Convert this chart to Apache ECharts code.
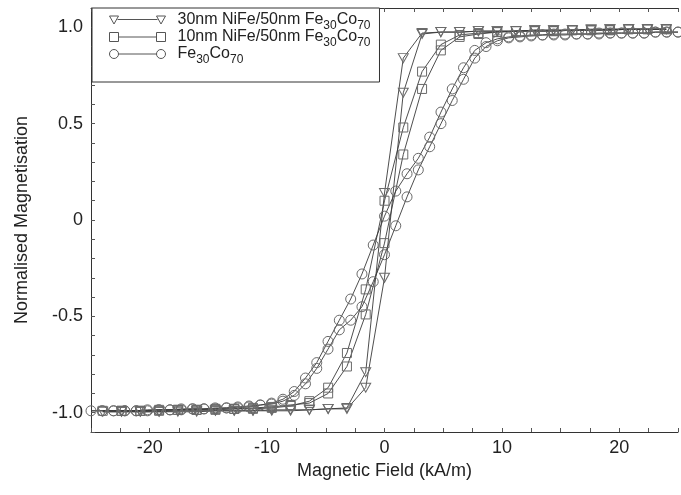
<!DOCTYPE html>
<html><head><meta charset="utf-8">
<script src="https://cdn.jsdelivr.net/npm/echarts@6/dist/echarts.min.js"></script>
<style>html,body{margin:0;padding:0;background:#fff}#c{width:681px;height:495px}</style>
</head><body><div id="c"></div>
<script>
// Field grid (kA/m) for the NiFe/FeCo bilayers, swept from +max to -max
const fieldGridBilayer = [24, 22.4, 20.8, 19.2, 17.6, 16, 14.4, 12.8, 11.2, 9.6, 8, 6.4, 4.8, 3.2, 1.6, 0,
  -1.6, -3.2, -4.8, -6.4, -8, -9.6, -11.2, -12.8, -14.4, -16, -17.6, -19.2, -20.8, -22.4, -24];
// 30nm NiFe/50nm Fe30Co70 : descending branch (on fieldGridBilayer), ascending branch (reverse grid, from -22.4)
const mag30Down = [0.99, 0.99, 0.99, 0.99, 0.985, 0.985, 0.985, 0.985, 0.98, 0.98, 0.98, 0.975, 0.975, 0.97, 0.84, 0.14,
  -0.79, -0.975, -0.98, -0.985, -0.99, -0.99, -0.99, -0.99, -0.99, -0.995, -0.995, -0.995, -0.995, -0.995, -0.995];
const mag30Up = [-0.995, -0.995, -0.995, -0.99, -0.99, -0.99, -0.99, -0.99, -0.985, -0.985, -0.985, -0.98, -0.98, -0.87, -0.30,
  0.66, 0.965, 0.975, 0.975, 0.98, 0.98, 0.98, 0.985, 0.985, 0.985, 0.99, 0.99, 0.99, 0.99, 0.99];
// 10nm NiFe/50nm Fe30Co70
const mag10Down = [0.99, 0.99, 0.99, 0.985, 0.985, 0.985, 0.98, 0.98, 0.98, 0.975, 0.97, 0.96, 0.91, 0.77, 0.48, 0.10,
  -0.36, -0.69, -0.87, -0.94, -0.965, -0.975, -0.98, -0.98, -0.985, -0.985, -0.985, -0.99, -0.99, -0.99, -0.99];
const mag10Up = [-0.99, -0.99, -0.985, -0.985, -0.985, -0.98, -0.98, -0.975, -0.97, -0.96, -0.95, -0.90, -0.76, -0.49, -0.12,
  0.34, 0.68, 0.88, 0.95, 0.965, 0.975, 0.98, 0.98, 0.98, 0.985, 0.985, 0.985, 0.99, 0.99, 0.99];
// Field grid for the single Fe30Co70 film
const fieldGridFeCo = [25, 24.04, 23.08, 22.12, 21.15, 20.19, 19.23, 18.27, 17.31, 16.35, 15.38, 14.42, 13.46, 12.5,
  11.54, 10.58, 9.62, 8.65, 7.69, 6.73, 5.77, 4.81, 3.85, 2.88, 1.92, 0.96, 0,
  -0.96, -1.92, -2.88, -3.85, -4.81, -5.77, -6.73, -7.69, -8.65, -9.62, -10.58, -11.54, -12.5, -13.46,
  -14.42, -15.38, -16.35, -17.31, -18.27, -19.23, -20.19, -21.15, -22.12, -23.08, -24.04, -25];
const magFeCoDown = [0.975, 0.975, 0.975, 0.97, 0.97, 0.97, 0.97, 0.97, 0.965, 0.965, 0.965, 0.965, 0.96, 0.96,
  0.955, 0.95, 0.94, 0.92, 0.88, 0.79, 0.68, 0.56, 0.43, 0.32, 0.24, 0.15, 0.02,
  -0.13, -0.28, -0.41, -0.52, -0.63, -0.74, -0.82, -0.89, -0.93, -0.95, -0.96, -0.97, -0.975, -0.975,
  -0.98, -0.98, -0.98, -0.985, -0.985, -0.985, -0.99, -0.99, -0.99, -0.99, -0.99, -0.99];
const magFeCoUp = [-0.99, -0.99, -0.99, -0.99, -0.985, -0.985, -0.985, -0.98, -0.98, -0.98, -0.975, -0.975, -0.97,
  -0.965, -0.96, -0.955, -0.94, -0.91, -0.85, -0.77, -0.67, -0.57, -0.52, -0.45, -0.32,
  -0.18, -0.03, 0.12, 0.26, 0.38, 0.50, 0.62, 0.73, 0.84, 0.90, 0.93, 0.945, 0.95, 0.955, 0.96, 0.96, 0.96,
  0.965, 0.965, 0.965, 0.97, 0.97, 0.97, 0.97, 0.975, 0.975, 0.975];

const seriesNames = ['30nm NiFe/50nm Fe30Co70', '10nm NiFe/50nm Fe30Co70', 'Fe30Co70'];
const xTickLabels = [-20, -10, 0, 10, 20];
const yTickLabels = ['-1.0', '-0.5', '0', '0.5', '1.0'];

function loop(grid, down, up) {
  const back = grid.slice().reverse().slice(1);
  return grid.map((x, i) => [x, down[i]]).concat(back.map((x, i) => [x, up[i]]));
}

const FONT = '"Liberation Sans", Arial, sans-serif';
const triPath = 'path://M0,0 L10,0 L5,9 Z';
const legendIcons = [
  'path://M8,3.5 L48,3.5 M0,0 L9,0 L4.5,8 Z M47,0 L56,0 L51.5,8 Z',
  'path://M9,4.5 L47,4.5 M0,0 L9,0 L9,9 L0,9 Z M47,0 L56,0 L56,9 L47,9 Z',
  'path://M9,4.5 L47,4.5 M9,4.5 A4.5,4.5 0 1 1 0,4.5 A4.5,4.5 0 1 1 9,4.5 Z M56,4.5 A4.5,4.5 0 1 1 47,4.5 A4.5,4.5 0 1 1 56,4.5 Z'
];

const chart = echarts.init(document.getElementById('c'), null, {renderer: 'canvas'});
const markerStyle = {color: 'rgba(0,0,0,0)', borderColor: '#6a6a6a', borderWidth: 1};
const lineStyle = {color: '#3a3a3a', width: 0.9};

function mkSeries(name, data, symbol, size) {
  return {
    name, type: 'line', data, symbol, symbolSize: size, showAllSymbol: true,
    itemStyle: markerStyle, lineStyle, emphasis: {disabled: true}, clip: true
  };
}

const axisCommon = {
  axisLine: {show: true, onZero: false, lineStyle: {color: '#333', width: 1}},
  axisTick: {show: true, inside: true, length: 4, lineStyle: {color: '#555'}},
  splitLine: {show: false}
};

function richName(n) {
  return n.replace(/^(.*)Fe30Co70$/, (m, pre) => (pre ? '{m|' + pre + 'Fe}' : '{m|Fe}') + '{s|30}{m|Co}{s|70}');
}

chart.setOption({
  animation: false,
  backgroundColor: '#fff',
  grid: {left: 91, top: 8, right: 0, bottom: 63},
  legend: {
    orient: 'vertical', left: 92, top: 8,
    padding: [0, 9, 16, 15],
    itemWidth: 56, itemHeight: 10, itemGap: -7,
    backgroundColor: '#fff', borderColor: '#333', borderWidth: 1, borderRadius: 0,
    data: seriesNames.map((n, i) => ({name: n, icon: legendIcons[i]})),
    itemStyle: {color: 'none', borderColor: '#555', borderWidth: 1},
    formatter: richName,
    textStyle: {
      fontFamily: FONT, fontSize: 16, color: '#222', lineHeight: 16, padding: [0, 0, 0, 7],
      rich: {
        m: {fontFamily: FONT, fontSize: 16, color: '#222', lineHeight: 16},
        s: {fontFamily: FONT, fontSize: 12, color: '#222', lineHeight: 16, padding: [12, 0, 0, 0]}
      }
    },
    selectedMode: false
  },
  xAxis: [
    Object.assign({
      type: 'value', position: 'bottom', min: -25, max: 25, interval: 2.5,
      name: 'Magnetic Field (kA/m)', nameLocation: 'middle', nameGap: 29,
      nameTextStyle: {fontFamily: FONT, fontSize: 18, color: '#222'},
      axisLabel: {
        fontFamily: FONT, fontSize: 18, color: '#222', margin: 7,
        formatter: v => xTickLabels.some(t => Math.abs(t - v) < 1e-6) ? String(Math.round(v)) : ''
      }
    }, axisCommon),
    Object.assign({
      type: 'value', position: 'top', min: -25, max: 25, interval: 2.5,
      axisLabel: {show: false}
    }, axisCommon)
  ],
  yAxis: Object.assign({
    type: 'value', min: -1.1, max: 1.1, interval: 0.1,
    name: 'Normalised Magnetisation', nameLocation: 'middle', nameGap: 60,
    nameTextStyle: {fontFamily: FONT, fontSize: 18, color: '#222'},
    axisLabel: {
      fontFamily: FONT, fontSize: 18, color: '#222', margin: 8,
      formatter: v => {
        const hit = yTickLabels.find(t => Math.abs(parseFloat(t) - v) < 1e-6);
        return hit === undefined ? '' : hit;
      }
    }
  }, axisCommon),
  series: [
    mkSeries(seriesNames[2], loop(fieldGridFeCo, magFeCoDown, magFeCoUp), 'circle', 10),
    mkSeries(seriesNames[1], loop(fieldGridBilayer, mag10Down, mag10Up), 'rect', 9),
    mkSeries(seriesNames[0], loop(fieldGridBilayer, mag30Down, mag30Up), triPath, [10, 9])
  ]
});
</script></body></html>
